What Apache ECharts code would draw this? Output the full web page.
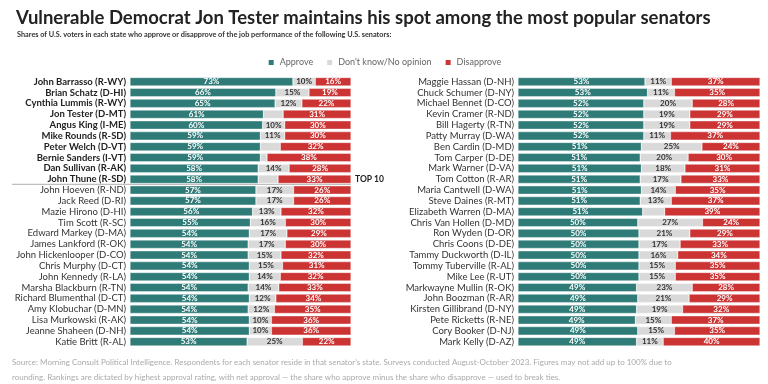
<!DOCTYPE html>
<html><head><meta charset="utf-8">
<script src="https://cdn.jsdelivr.net/npm/echarts@6/dist/echarts.min.js"></script>
<style>html,body{margin:0;padding:0;background:#fff}#c{width:768px;height:384px}</style>
</head><body><div id="c"></div>
<script>
const leftNames = ["John Barrasso (R-WY)","Brian Schatz (D-HI)","Cynthia Lummis (R-WY)","Jon Tester (D-MT)","Angus King (I-ME)","Mike Rounds (R-SD)","Peter Welch (D-VT)","Bernie Sanders (I-VT)","Dan Sullivan (R-AK)","John Thune (R-SD)","John Hoeven (R-ND)","Jack Reed (D-RI)","Mazie Hirono (D-HI)","Tim Scott (R-SC)","Edward Markey (D-MA)","James Lankford (R-OK)","John Hickenlooper (D-CO)","Chris Murphy (D-CT)","John Kennedy (R-LA)","Marsha Blackburn (R-TN)","Richard Blumenthal (D-CT)","Amy Klobuchar (D-MN)","Lisa Murkowski (R-AK)","Jeanne Shaheen (D-NH)","Katie Britt (R-AL)"];
const leftApprove = [73,66,65,61,60,59,59,59,58,58,57,57,56,55,54,54,54,54,54,54,54,54,54,54,53];
const leftDontKnow = [10,15,12,9,10,11,9,3,14,9,17,17,13,16,17,17,15,15,14,14,12,12,10,10,25];
const leftDisapprove = [16,19,22,31,30,30,32,38,28,33,26,26,32,30,29,30,32,31,32,33,34,35,36,36,22];

const rightNames = ["Maggie Hassan (D-NH)","Chuck Schumer (D-NY)","Michael Bennet (D-CO)","Kevin Cramer (R-ND)","Bill Hagerty (R-TN)","Patty Murray (D-WA)","Ben Cardin (D-MD)","Tom Carper (D-DE)","Mark Warner (D-VA)","Tom Cotton (R-AR)","Maria Cantwell (D-WA)","Steve Daines (R-MT)","Elizabeth Warren (D-MA)","Chris Van Hollen (D-MD)","Ron Wyden (D-OR)","Chris Coons (D-DE)","Tammy Duckworth (D-IL)","Tommy Tuberville (R-AL)","Mike Lee (R-UT)","Markwayne Mullin (R-OK)","John Boozman (R-AR)","Kirsten Gillibrand (D-NY)","Pete Ricketts (R-NE)","Cory Booker (D-NJ)","Mark Kelly (D-AZ)"];
const rightApprove = [53,53,52,52,52,52,51,51,51,51,51,51,51,50,50,50,50,50,50,49,49,49,49,49,49];
const rightDontKnow = [11,11,20,19,19,11,25,20,18,17,14,13,9,27,21,17,16,15,15,23,21,19,15,15,11];
const rightDisapprove = [37,35,28,29,29,37,24,30,31,33,35,37,39,24,29,33,34,35,35,28,29,32,37,35,40];

const FONT = 'Lato, "Noto Sans", sans-serif';
const C_APP = '#2e7b78', C_DK = '#d9d9d9', C_DIS = '#cc3434';

function norm(arr, a, b, c) {
  return arr.map((v, i) => ({ value: v / (a[i] + b[i] + c[i]) * 100, raw: v }));
}
function mkSeries(name, vals, a, b, c, color, labelColor, idx) {
  return {
    name, type: 'bar', stack: 'p' + idx, xAxisIndex: idx, yAxisIndex: idx,
    data: norm(vals, a, b, c), barCategoryGap: '22%',
    itemStyle: { color, borderColor: '#fff', borderWidth: 0.4 },
    label: { show: true, position: 'inside', color: labelColor, fontFamily: FONT, fontWeight: 'bold', fontSize: 8,
      formatter: p => p.data.raw >= 10 ? p.data.raw + '%' : '' },
    emphasis: { disabled: true }, animation: false
  };
}
const series = [
  mkSeries('Approve', leftApprove, leftApprove, leftDontKnow, leftDisapprove, C_APP, '#fff', 0),
  mkSeries('Don\'t know/No opinion', leftDontKnow, leftApprove, leftDontKnow, leftDisapprove, C_DK, '#333', 0),
  mkSeries('Disapprove', leftDisapprove, leftApprove, leftDontKnow, leftDisapprove, C_DIS, '#fff', 0),
  mkSeries('Approve', rightApprove, rightApprove, rightDontKnow, rightDisapprove, C_APP, '#fff', 1),
  mkSeries('Don\'t know/No opinion', rightDontKnow, rightApprove, rightDontKnow, rightDisapprove, C_DK, '#333', 1),
  mkSeries('Disapprove', rightDisapprove, rightApprove, rightDontKnow, rightDisapprove, C_DIS, '#fff', 1)
];
function yAx(names, idx, top10) {
  return {
    type: 'category', data: names, inverse: true, gridIndex: idx,
    axisLine: { show: false }, axisTick: { show: false },
    axisLabel: { margin: 4, fontFamily: FONT, fontSize: 9.5, color: '#333', interval: 0,
      formatter: (v, i) => (top10 && i < 10) ? '{b|' + v + '}' : v,
      rich: { b: { fontWeight: 'bold', fontFamily: FONT, fontSize: 9.5, color: '#222' } } }
  };
}
const chart = echarts.init(document.getElementById('c'), null, { renderer: 'canvas' });
chart.setOption({
  animation: false,
  title: [
    { text: 'Vulnerable Democrat Jon Tester maintains his spot among the most popular senators', left: 11, top: 4,
      textStyle: { fontFamily: FONT, fontWeight: 'bold', fontSize: 18.5, color: '#222' } },
    { text: 'Shares of U.S. voters in each state who approve or disapprove of the job performance of the following U.S. senators:', left: 12, top: 26,
      textStyle: { fontFamily: FONT, fontWeight: 'bold', fontSize: 7.3, color: '#333' } }
  ],
  legend: { top: 53, left: 'center', itemWidth: 7, itemHeight: 7, itemGap: 12, icon: 'rect',
    textStyle: { fontFamily: FONT, fontSize: 9, color: '#666' },
    data: ['Approve', 'Don\'t know/No opinion', 'Disapprove'] },
  grid: [
    { left: 130, width: 221, top: 76.3, height: 270.8 },
    { left: 518, width: 242, top: 76.3, height: 270.8 }
  ],
  xAxis: [
    { type: 'value', min: 0, max: 100, gridIndex: 0, show: false },
    { type: 'value', min: 0, max: 100, gridIndex: 1, show: false }
  ],
  yAxis: [yAx(leftNames, 0, true), yAx(rightNames, 1, false)],
  series,
  graphic: [
    { type: 'line', shape: { x1: 12, y1: 184.3, x2: 351, y2: 184.3 }, style: { stroke: '#999', lineWidth: 0.8 } },
    { type: 'text', left: 355, top: 175, style: { text: 'TOP 10', font: 'bold 8.5px ' + FONT, fill: '#222' } },
    { type: 'text', left: 12, top: 358, style: { text: 'Source: Morning Consult Political Intelligence. Respondents for each senator reside in that senator\u2019s state. Surveys conducted August-October 2023. Figures may not add up to 100% due to', font: '8px ' + FONT, fill: '#aaa' } },
    { type: 'text', left: 12, top: 373, style: { text: 'rounding. Rankings are dictated by highest approval rating, with net approval \u2014 the share who approve minus the share who disapprove \u2014 used to break ties.', font: '8px ' + FONT, fill: '#aaa' } }
  ]
});
</script></body></html>
